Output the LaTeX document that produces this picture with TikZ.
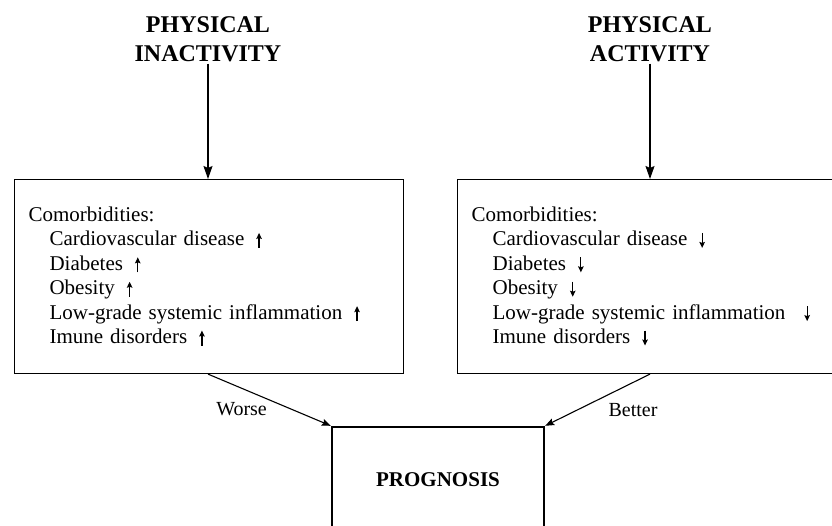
\documentclass[tikz,border=0pt]{standalone}
\usepackage{fontspec}
\setmainfont{Liberation Serif}
\usetikzlibrary{arrows.meta,positioning}

% small trend arrows after each comorbidity
\newcommand{\incr}{\hspace{12pt}\tikz[baseline=0pt]\draw[line width=1.2pt,-{Stealth[length=6pt,width=5.5pt,inset=1pt]}] (0pt,-2pt) -- (0pt,13pt);}
\newcommand{\decr}{\hspace{12pt}\tikz[baseline=0pt]\draw[line width=1.2pt,-{Stealth[length=6pt,width=5.5pt,inset=1pt]}] (0pt,13pt) -- (0pt,-2pt);}

\tikzset{
  title/.style={align=center, inner sep=2pt, font=\fontsize{24}{28.5}\selectfont\bfseries},
  combox/.style={rectangle, draw, line width=1.1pt, align=left, inner xsep=14pt,
    minimum height=194pt, font=\fontsize{21}{24.4}\selectfont},
  progbox/.style={rectangle, draw, line width=2.4pt, minimum width=212pt,
    minimum height=106pt, font=\fontsize{21}{25}\selectfont\bfseries},
  lbl/.style={inner sep=2pt, font=\fontsize{20}{24}\selectfont},
  arrow/.style={-{Stealth[length=13pt,width=9pt,inset=2pt]}, line width=1.2pt},
  smallarrow/.style={-{Stealth[length=9pt,width=7pt,inset=1.5pt]}, line width=1.1pt}
}

\begin{document}
\begin{tikzpicture}[x=1pt, y=-1pt]
      \useasboundingbox (0,0) rectangle (832,526);

      % Causes
      \node[title] (inact) at (208,39) {PHYSICAL\\INACTIVITY};
      \node[title] (actv) at (650,39) {PHYSICAL\\ACTIVITY};

      % Comorbidities
      \node[combox, text width=361pt, anchor=north west] (leftbox) at (14,179) {Comorbidities:\\
        \hspace*{21pt}Cardiovascular disease\incr\\
        \hspace*{21pt}Diabetes\incr\\
        \hspace*{21pt}Obesity\incr\\
        \hspace*{21pt}Low-grade systemic inflammation\incr\\
        \hspace*{21pt}Imune disorders\incr};
      \node[combox, text width=347pt, right=53pt of leftbox] (rightbox) {Comorbidities:\\
        \hspace*{21pt}Cardiovascular disease\decr\\
        \hspace*{21pt}Diabetes\decr\\
        \hspace*{21pt}Obesity\decr\\
        \hspace*{21pt}Low-grade systemic inflammation\hspace{7pt}\decr\\
        \hspace*{21pt}Imune disorders\decr};

      % Outcome
      \node[progbox] (prog) at (438,480) {PROGNOSIS};

      % Arrows
      \draw[arrow] (inact.south) -- (inact.south |- leftbox.north);
      \draw[arrow] (actv.south) -- (actv.south |- rightbox.north);
      \draw[smallarrow] (leftbox.south -| inact) -- node[lbl, pos=0.5, below left] {Worse} (prog.north west);
      \draw[smallarrow] (rightbox.south -| actv) -- node[lbl, pos=0.42, below right, yshift=-5pt] {Better} (prog.north east);
\end{tikzpicture}
\end{document}
